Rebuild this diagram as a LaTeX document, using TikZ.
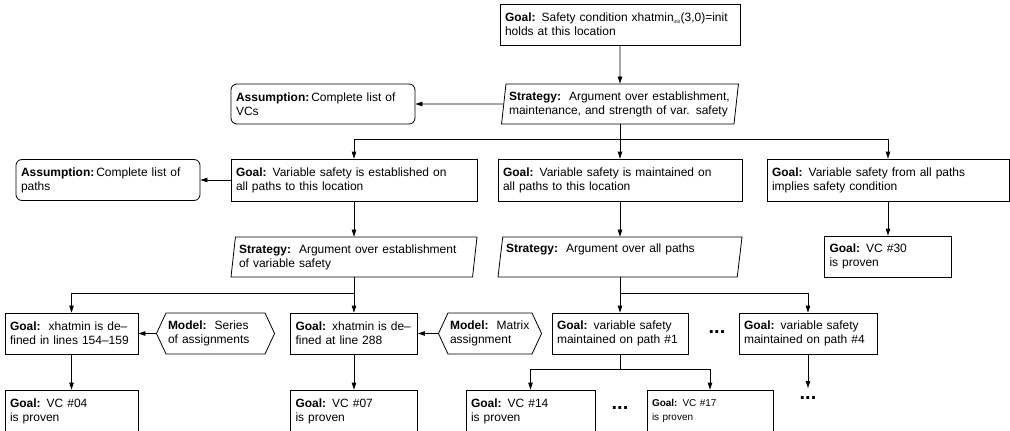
\documentclass[tikz,border=0pt]{standalone}
\usepackage{fontspec}
\setmainfont{Liberation Sans}
\usetikzlibrary{shapes.geometric,shapes.symbols,arrows.meta}

\begin{document}
\begin{tikzpicture}[x=1pt, y=-1pt, line width=0.8pt,
    >={Triangle[length=7pt,width=4.5pt]},
    every node/.style={font=\fontsize{12}{14}\selectfont},
    goal/.style={draw, rectangle, align=left, inner xsep=5pt, inner ysep=0pt,
        minimum height=41pt, text width=#1},
    strategy/.style={draw, trapezium, trapezium left angle=80, trapezium right angle=100,
        trapezium stretches body, align=left, inner xsep=3pt, inner ysep=0pt,
        minimum height=40pt, text width=#1},
    assumption/.style={draw, rectangle, rounded corners=6pt, align=left, inner xsep=5pt,
        inner ysep=0pt, minimum height=40pt, text width=#1},
    model/.style={draw, signal, signal to=west and east, signal pointer angle=130,
        align=left, inner xsep=2pt, inner ysep=0pt, minimum height=41pt, text width=#1},
    dots/.style={font=\fontsize{20}{20}\selectfont\bfseries, inner sep=0pt}]
    \useasboundingbox (0,0) rectangle (1010,431);
    \clip (0,0) rectangle (1010,431);

    % Nodes
    \node[goal=230pt] (TopGoal) at (620,24.5) {\textbf{Goal:} Safety condition xhatmin\textsubscript{\fontsize{5}{5}\selectfont init}(3,0)=init\\holds at this location};
    \node[strategy=222pt, minimum width=236pt] (StratAll) at (620,104) {\textbf{Strategy:}\ \ Argument over establishment,\\maintenance, and strength of var. safety};
    \node[assumption=174pt] (AssumVCs) at (323,104) {\textbf{Assumption:}\,Complete list of\\VCs};

    \node[goal=236pt, minimum height=42pt] (GoalEst) at (354,180) {\textbf{Goal:} Variable safety is established on\\all paths to this location};
    \node[assumption=174pt, minimum height=41pt] (AssumPaths) at (108,180) {\textbf{Assumption:}\,Complete list of\\paths};
    \node[goal=234pt, minimum height=42pt] (GoalMaint) at (620,180) {\textbf{Goal:} Variable safety is maintained on\\all paths to this location};
    \node[goal=232pt, minimum height=42pt] (GoalImpl) at (888,180) {\textbf{Goal:} Variable safety from all paths\\implies safety condition};

    \node[strategy=230pt, minimum width=246pt] (StratEst) at (354,257) {\textbf{Strategy:}\ \ Argument over establishment\\of variable safety};
    \node[strategy=228pt, minimum width=244pt] (StratPaths) at (620,257) {\textbf{Strategy:}\ \ Argument over all paths\\\strut};
    \node[goal=117pt] (VCThirty) at (888,256.5) {\textbf{Goal:} VC \#30\\is proven};

    \node[goal=123pt] (GoalDefA) at (71.5,333.5) {\textbf{Goal:}\ \ xhatmin is de--\\fined in lines 154--159};
    \node[model=95pt, minimum width=113pt] (ModelSeries) at (215.5,333.5) {\textbf{Model:}\ \ Series\\of assignments};
    \node[goal=117pt] (GoalDefB) at (354,333.5) {\textbf{Goal:} xhatmin is de--\\fined at line 288};
    \node[model=80pt, minimum width=98pt] (ModelMatrix) at (490,333.5) {\textbf{Model:}\ \ Matrix\\assignment};
    \node[goal=126pt] (GoalPathA) at (620,333.5) {\textbf{Goal:} variable safety\\maintained on path \#1};
    \node[dots] (DotsPaths) at (717,332) {...};
    \node[goal=128pt] (GoalPathD) at (808,333.5) {\textbf{Goal:} variable safety\\maintained on path \#4};

    \node[goal=123pt, minimum height=42pt] (VCFour) at (71.5,411) {\textbf{Goal:} VC \#04\\is proven};
    \node[goal=117pt, minimum height=42pt] (VCSeven) at (354,411) {\textbf{Goal:} VC \#07\\is proven};
    \node[goal=119pt, minimum height=42pt] (VCFourteen) at (530.5,411) {\textbf{Goal:} VC \#14\\is proven};
    \node[dots] (DotsVCs) at (620,408) {...};
    \node[goal=116pt, minimum height=42pt, font=\fontsize{10}{14}\selectfont] (VCSeventeen) at (710,411) {\textbf{Goal:} VC \#17\\is proven};
    \node[dots] (DotsMore) at (808,398) {...};

    % Branch points
    \coordinate (SplitTop) at (620,139);
    \coordinate (SplitEst) at (354,293);
    \coordinate (SplitPaths) at (620,293);
    \coordinate (SplitVCs) at (620,369);
    \coordinate (PathDEnd) at (808,388);

    % Arrows
    \draw[->] (TopGoal) -- (StratAll);
    \draw[->] (StratAll) -- (AssumVCs);
    \draw (StratAll) -- (SplitTop);
    \draw[->] (SplitTop) -| (GoalEst);
    \draw[->] (SplitTop) -- (GoalMaint);
    \draw[->] (SplitTop) -| (GoalImpl);
    \draw[->] (GoalEst) -- (AssumPaths);
    \draw[->] (GoalEst) -- (StratEst);
    \draw[->] (GoalMaint) -- (StratPaths);
    \draw[->] (GoalImpl) -- (VCThirty);
    \draw (StratEst) -- (SplitEst);
    \draw[->] (SplitEst) -| (GoalDefA);
    \draw[->] (SplitEst) -- (GoalDefB);
    \draw[->] (ModelSeries) -- (GoalDefA);
    \draw[->] (ModelMatrix) -- (GoalDefB);
    \draw[->] (GoalDefA) -- (VCFour);
    \draw[->] (GoalDefB) -- (VCSeven);
    \draw (StratPaths) -- (SplitPaths);
    \draw[->] (SplitPaths) -- (GoalPathA);
    \draw[->] (SplitPaths) -| (GoalPathD);
    \draw (GoalPathA) -- (SplitVCs);
    \draw[->] (SplitVCs) -| (VCFourteen);
    \draw[->] (SplitVCs) -| (VCSeventeen);
    \draw[->] (GoalPathD) -- (PathDEnd);
\end{tikzpicture}
\end{document}
